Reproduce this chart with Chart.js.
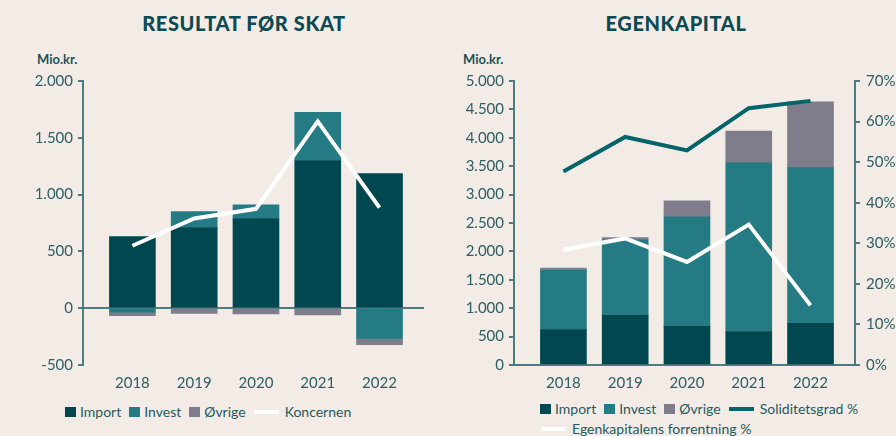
<!DOCTYPE html>
<html>
<head>
<meta charset="utf-8">
<script src="https://cdn.jsdelivr.net/npm/chart.js@4.4.1/dist/chart.umd.min.js"></script>
<style>
  body { margin: 0; width: 896px; height: 436px; overflow: hidden; background: #f3ece6; font-family: Lato, sans-serif; position: relative; }
  .title { position: absolute; top: 11px; font-weight: 900; font-size: 20px; letter-spacing: 0.6px; color: #0c4a53; text-align: center; }
  .unit { position: absolute; top: 51px; font-weight: 700; font-size: 13px; color: #1c5157; }
  .box { position: absolute; top: 60px; width: 448px; height: 340px; }
  .legend { position: absolute; display: flex; align-items: center; font-size: 14px; color: #1f5a5f; gap: 8px; white-space: nowrap; }
  .item { display: flex; align-items: center; gap: 4px; }
  .sq { width: 11px; height: 10px; }
  .ln { width: 25px; height: 4px; margin-right: 2px; }
</style>
</head>
<body>
<div class="title" style="left:44px;width:400px">RESULTAT FØR SKAT</div>
<div class="title" style="left:476px;width:400px">EGENKAPITAL</div>
<div class="unit" style="left:37px">Mio.kr.</div>
<div class="unit" style="left:463px">Mio.kr.</div>
<div class="box" style="left:0"><canvas id="resChart" width="448" height="340"></canvas></div>
<div class="box" style="left:448px"><canvas id="ekChart" width="448" height="340"></canvas></div>
<div class="legend" id="resLegend" style="left:65px;top:403px"></div>
<div class="legend" id="ekLegend1" style="left:540px;top:400px"></div>
<div class="legend" id="ekLegend2" style="left:541px;top:420px"></div>
<script>
// Years on the x axis
const years = [2018, 2019, 2020, 2021, 2022];

// Resultat før skat (mio. kr.)
const resImport = [630, 710, 790, 1300, 1185];
const resInvest = [-35, 140, 120, 425, -265];
const resOvrige = [-30, -45, -50, -60, -55];
const resKoncernen = [550, 790, 875, 1645, 885];
const resTicks = [-500, 0, 500, 1000, 1500, 2000];

// Egenkapital (mio. kr.) and ratios (%)
const ekImport = [625, 875, 680, 590, 735];
const ekInvest = [1040, 1335, 1930, 2970, 2740];
const ekOvrige = [40, 35, 280, 560, 1160];
const soliditet = [47.7, 56.2, 52.9, 63.3, 65.1];
const forrentning = [28.4, 31.2, 25.4, 34.6, 14.7];
const ekTicks = [0, 500, 1000, 1500, 2000, 2500, 3000, 3500, 4000, 4500, 5000];
const pctTicks = [0, 10, 20, 30, 40, 50, 60, 70];

const cImport = "#01474f";
const cInvest = "#257b84";
const cOvrige = "#7f7c8c";
const cSolid = "#03646a";
const cAxis = "#4d7b80";
const cText = "#2c5e63";
const tickFont = { family: "Lato", size: 15 };

const pts = (arr) => years.map((x, i) => ({ x: x, y: arr[i] }));
const fmt = (v) => String(Math.abs(v)).replace(/\B(?=(\d{3})+(?!\d))/g, ".").replace(/^/, v < 0 ? "-" : "");

function xAxis(showBorder) {
  return {
    type: "linear",
    offset: false,
    min: 2017.2,
    max: 2022.72,
    afterBuildTicks: (s) => { s.ticks = years.map((v) => ({ value: v })); },
    afterFit: (s) => { s.height = 35; },
    grid: { display: false, drawTicks: false, offset: false },
    border: { display: showBorder, color: cAxis, width: 2 },
    ticks: { font: tickFont, color: cText, padding: 9, callback: (v) => String(v) },
  };
}

function barSet(label, arr, color) {
  return { type: "bar", label: label, data: pts(arr), backgroundColor: color, barThickness: 46, stack: "bars", yAxisID: "y" };
}

// Left chart
new Chart(document.getElementById("resChart"), {
  data: {
    datasets: [
      { type: "line", label: "Koncernen", data: pts(resKoncernen), borderColor: "#ffffff", borderWidth: 4, pointRadius: 0, stack: "line", yAxisID: "y" },
      barSet("Import", resImport, cImport),
      barSet("Invest", resInvest, cInvest),
      barSet("Øvrige", resOvrige, cOvrige),
    ],
  },
  options: {
    responsive: false,
    animation: false,
    layout: { padding: { top: 21, right: 24, left: 0, bottom: 0 } },
    plugins: { legend: { display: false }, tooltip: { enabled: false } },
    scales: {
      x: xAxis(false),
      y: {
        stacked: true,
        z: 1,
        min: -500,
        max: 2000,
        afterBuildTicks: (s) => { s.ticks = resTicks.map((v) => ({ value: v })); },
        afterFit: (s) => { s.width = 83; },
        border: { color: cAxis, width: 2 },
        grid: {
          color: (c) => (c.tick && c.tick.value === 0 ? cAxis : "rgba(0,0,0,0)"),
          lineWidth: 2,
          tickColor: cAxis,
          tickLength: 5,
        },
        ticks: { font: tickFont, color: cText, padding: 5, callback: (v) => fmt(v) },
      },
    },
  },
});

// Right chart
new Chart(document.getElementById("ekChart"), {
  data: {
    datasets: [
      { type: "line", label: "Egenkapitalens forrentning %", data: pts(forrentning), borderColor: "#ffffff", borderWidth: 4, pointRadius: 0, yAxisID: "y2" },
      { type: "line", label: "Soliditetsgrad %", data: pts(soliditet), borderColor: cSolid, borderWidth: 4, pointRadius: 0, yAxisID: "y2" },
      barSet("Import", ekImport, cImport),
      barSet("Invest", ekInvest, cInvest),
      barSet("Øvrige", ekOvrige, cOvrige),
    ],
  },
  options: {
    responsive: false,
    animation: false,
    layout: { padding: { top: 21, right: 0, left: 0, bottom: 0 } },
    plugins: { legend: { display: false }, tooltip: { enabled: false } },
    scales: {
      x: xAxis(true),
      y: {
        stacked: true,
        min: 0,
        max: 5000,
        afterBuildTicks: (s) => { s.ticks = ekTicks.map((v) => ({ value: v })); },
        afterFit: (s) => { s.width = 66; },
        border: { color: cAxis, width: 2 },
        grid: { drawOnChartArea: false, tickColor: cAxis, tickLength: 5, lineWidth: 2 },
        ticks: { font: tickFont, color: cText, padding: 5, callback: (v) => fmt(v) },
      },
      y2: {
        position: "right",
        min: 0,
        max: 70,
        afterBuildTicks: (s) => { s.ticks = pctTicks.map((v) => ({ value: v })); },
        afterFit: (s) => { s.width = 41; },
        border: { color: cAxis, width: 2 },
        grid: { drawOnChartArea: false, tickColor: cAxis, tickLength: 5, lineWidth: 2 },
        ticks: { font: tickFont, color: cText, padding: 6, callback: (v) => v + "%" },
      },
    },
  },
});

// HTML legends
function legend(id, items) {
  document.getElementById(id).innerHTML = items
    .map((it) => `<span class="item"><span class="${it[2]}" style="background:${it[1]}"></span>${it[0]}</span>`)
    .join("");
}
legend("resLegend", [["Import", cImport, "sq"], ["Invest", cInvest, "sq"], ["Øvrige", cOvrige, "sq"], ["Koncernen", "#ffffff", "ln"]]);
legend("ekLegend1", [["Import", cImport, "sq"], ["Invest", cInvest, "sq"], ["Øvrige", cOvrige, "sq"], ["Soliditetsgrad %", cSolid, "ln"]]);
legend("ekLegend2", [["Egenkapitalens forrentning %", "#ffffff", "ln"]]);
</script>
</body>
</html>
